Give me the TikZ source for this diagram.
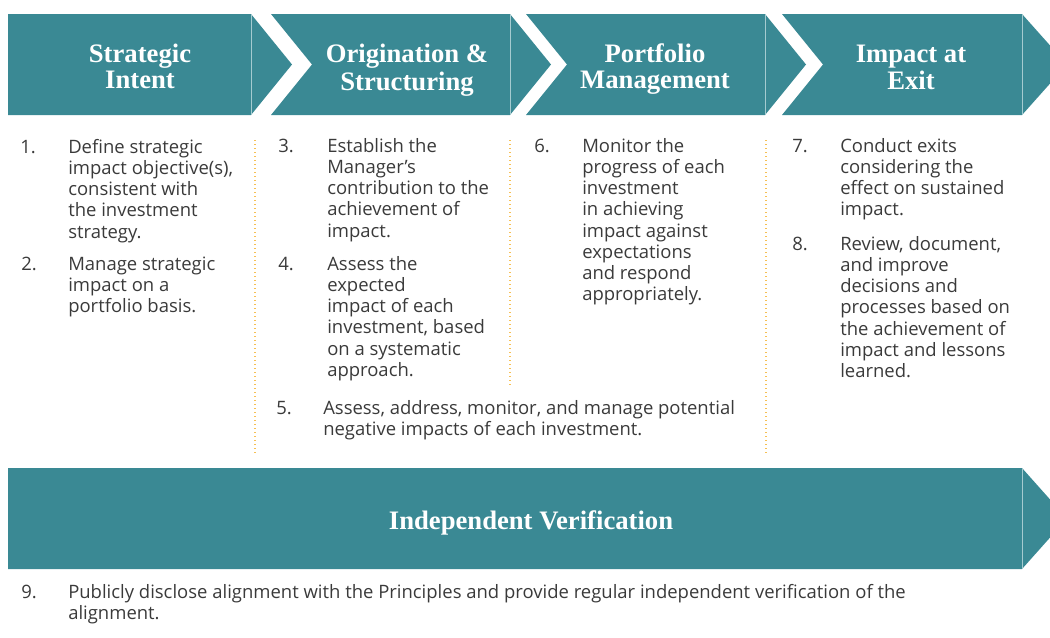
\documentclass[tikz,border=0pt]{standalone}
\usepackage{fontspec}
\setmainfont{Open Sans}
\newfontfamily\headfont{Liberation Serif}
\definecolor{tealbar}{RGB}{58,137,148}
\definecolor{divc}{RGB}{165,203,208}
\definecolor{dotc}{RGB}{246,192,84}
\definecolor{txt}{RGB}{58,58,58}
\begin{document}
\begin{tikzpicture}[x=0.75pt,y=-0.75pt,
  bar/.style={fill=tealbar,draw=none},
  divider/.style={draw=divc,line width=0.6pt},
  head/.style={text=white,font=\headfont\bfseries\fontsize{20}{19.5}\selectfont,align=center,inner sep=0pt,anchor=north},
  body/.style={text=txt,font=\fontsize{13.85}{15.9}\selectfont,align=left,inner sep=0pt,anchor=north west},
  sepline/.style={draw=dotc,line width=1.1pt,dash pattern=on 0.9pt off 2.1pt}]
\useasboundingbox (0,0) rectangle (1050,637);
% header chevrons
\fill[bar] (8,14) -- (251,14) -- (292,64.5) -- (251,115) -- (8,115) -- cycle;
\fill[bar] (271,14) -- (510,14) -- (551,64.5) -- (510,115) -- (271,115) -- (312,64.5) -- cycle;
\fill[bar] (526,14) -- (765,14) -- (806,64.5) -- (765,115) -- (526,115) -- (567,64.5) -- cycle;
\fill[bar] (782,14) -- (1022,14) -- (1067,64.5) -- (1022,115) -- (782,115) -- (823,64.5) -- cycle;
\draw[divider] (251,14) -- (251,115);
\draw[divider] (510,14) -- (510,115);
\draw[divider] (765,14) -- (765,115);
\draw[divider] (1022,14) -- (1022,115);
% bottom bar
\fill[bar] (8,468) -- (1022,468) -- (1067,518.5) -- (1022,569) -- (8,569) -- cycle;
\draw[divider] (1022,468) -- (1022,569);
% dotted separators
\draw[sepline] (255,140) -- (255,455);
\draw[sepline] (510,140) -- (510,385);
\draw[sepline] (766,140) -- (766,455);
% header texts
\node[head] (h1) at (140,43.8) {\strut Strategic\\Intent};
\node[head] (h2) at (407,43.8) {\strut Origination \&\\Structuring};
\node[head] (h3) at (655,43.8) {\strut Portfolio\\Management};
\node[head] (h4) at (911,43.8) {\strut Impact at\\Exit};
\node[text=white,font=\headfont\bfseries\fontsize{20}{19.5}\selectfont,inner sep=0pt,anchor=base] (iv) at (531,529) {Independent Verification};
% items
\node[body] (n1) at (20,138.2) {\strut 1.};
\node[body] (t1) at (68,138.2) {\strut Define strategic\\impact objective(s),\\consistent with\\the investment\\strategy.};
\node[body] (n2) at (21,255.2) {\strut 2.};
\node[body] (t2) at (68,255.2) {\strut Manage strategic\\impact on a\\portfolio basis.};
\node[body] (n3) at (278,137.2) {\strut 3.};
\node[body] (t3) at (327,137.2) {\strut Establish the\\Manager’s\\contribution to the\\achievement of\\impact.};
\node[body] (n4) at (278,255.2) {\strut 4.};
\node[body] (t4) at (327,255.2) {\strut Assess the\\expected\\impact of each\\investment, based\\on a systematic\\approach.};
\node[body] (n5) at (276,399.2) {\strut 5.};
\node[body] (t5) at (323,399.2) {\strut Assess, address, monitor, and manage potential\\negative impacts of each investment.};
\node[body] (n6) at (534,137.2) {\strut 6.};
\node[body] (t6) at (582,137.2) {\strut Monitor the\\progress of each\\investment\\in achieving\\impact against\\expectations\\and respond\\appropriately.};
\node[body] (n7) at (792,137.2) {\strut 7.};
\node[body] (t7) at (840,137.2) {\strut Conduct exits\\considering the\\effect on sustained\\impact.};
\node[body] (n8) at (792,235.2) {\strut 8.};
\node[body] (t8) at (840,235.2) {\strut Review, document,\\and improve\\decisions and\\processes based on\\the achievement of\\impact and lessons\\learned.};
\node[body] (n9) at (21,583.2) {\strut 9.};
\node[body] (t9) at (68,583.2) {\strut Publicly disclose alignment with the Principles and provide regular independent verification of the\\alignment.};
\end{tikzpicture}
\end{document}
